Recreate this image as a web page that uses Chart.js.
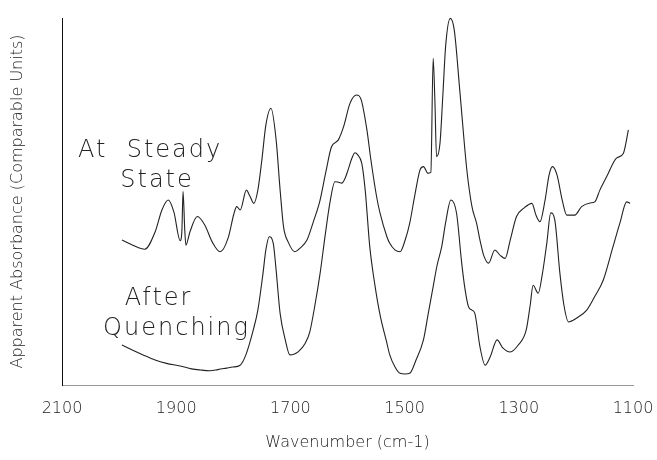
<!DOCTYPE html>
<html>
<head>
<meta charset="utf-8">
<script src="https://cdn.jsdelivr.net/npm/chart.js@4"></script>
<style>
  html, body { margin: 0; padding: 0; background: #fff; }
  #wrap { width: 657px; height: 460px; }
</style>
</head>
<body>
<div id="wrap"><canvas id="irChart" width="657" height="460"></canvas></div>
<script>
// wavenumber ticks shown on the bottom axis
var xTicks = [2100, 1900, 1700, 1500, 1300, 1100];

// "At Steady State" spectrum
var steadyWn = [1995, 1976, 1955, 1937, 1925, 1914, 1904, 1893, 1890, 1888,
  1885, 1883, 1876, 1863, 1850, 1837, 1823, 1809, 1799, 1794,
  1788, 1777, 1771, 1764, 1757, 1750, 1743, 1734, 1725, 1718,
  1712, 1704, 1692, 1683, 1671, 1660, 1648, 1638, 1628, 1616,
  1606, 1596, 1584, 1576, 1566, 1559, 1549, 1543, 1531, 1526,
  1517, 1508, 1499, 1491, 1482, 1473, 1467, 1459, 1454, 1450,
  1447, 1444, 1438, 1433, 1428, 1420, 1413, 1403, 1391, 1382,
  1374, 1368, 1361, 1353, 1342, 1333, 1324, 1315, 1304, 1291,
  1277, 1270, 1263, 1254, 1247, 1241, 1233, 1224, 1216, 1202,
  1190, 1175, 1167, 1158, 1146, 1129, 1117, 1108];
var steadyAbs = [39.5, 38.1, 37.0, 41.7, 47.7, 50.4, 47.1, 39.3, 42.2, 52.7,
  42.2, 38.1, 41.7, 45.9, 43.6, 39.0, 36.3, 40.1, 46.6, 48.6,
  47.7, 53.1, 51.5, 49.5, 53.1, 61.3, 70.8, 75.4, 66.8, 53.1,
  43.1, 39.0, 36.3, 37.3, 39.5, 44.4, 50.4, 58.0, 64.9, 66.8,
  70.8, 76.6, 79.0, 77.7, 69.5, 61.3, 51.3, 46.8, 40.4, 38.6,
  36.8, 36.3, 39.5, 44.1, 51.8, 58.6, 59.5, 57.7, 58.0, 89.0,
  77.7, 62.2, 65.9, 79.0, 92.6, 99.9, 96.7, 79.6, 58.6, 48.6,
  44.1, 39.5, 35.1, 33.2, 36.8, 35.4, 34.5, 39.5, 45.9, 48.2,
  49.5, 46.3, 44.5, 50.4, 57.2, 59.5, 57.2, 50.4, 46.3, 46.3,
  48.6, 49.6, 49.9, 53.1, 56.8, 61.8, 63.1, 69.5];

// "After Quenching" spectrum
var quenchWn = [1995, 1976, 1958, 1937, 1917, 1893, 1873, 1858, 1841, 1827,
  1812, 1801, 1788, 1778, 1765, 1757, 1748, 1743, 1737, 1730,
  1725, 1718, 1709, 1701, 1694, 1686, 1674, 1666, 1657, 1648,
  1639, 1631, 1622, 1617, 1610, 1604, 1599, 1592, 1587, 1582,
  1575, 1569, 1561, 1552, 1543, 1531, 1526, 1517, 1508, 1499,
  1491, 1480, 1467, 1459, 1450, 1443, 1435, 1428, 1419, 1409,
  1400, 1394, 1388, 1382, 1377, 1368, 1359, 1350, 1338, 1328,
  1315, 1301, 1287, 1280, 1275, 1266, 1259, 1251, 1244, 1237,
  1228, 1221, 1213, 1199, 1181, 1167, 1152, 1135, 1123, 1111,
  1105];
var quenchAbs = [10.9, 9.5, 8.2, 6.8, 5.9, 5.2, 4.4, 4.1, 3.9, 4.2,
  4.6, 4.9, 5.4, 8.2, 15.0, 20.4, 30.4, 36.8, 40.4, 38.6,
  31.3, 19.5, 12.3, 8.2, 8.4, 9.1, 11.4, 14.5, 21.8, 30.4,
  40.9, 49.5, 55.4, 55.3, 55.0, 56.4, 58.6, 61.9, 63.3, 62.7,
  60.4, 53.1, 37.7, 27.2, 19.1, 11.4, 8.2, 5.0, 3.2, 3.0,
  3.2, 6.8, 12.3, 19.1, 26.8, 32.7, 37.7, 44.4, 50.4, 46.8,
  33.2, 25.9, 21.3, 20.4, 19.5, 10.4, 5.4, 7.7, 12.3, 10.1,
  9.0, 10.9, 15.0, 21.8, 27.2, 25.0, 30.0, 38.6, 46.9, 45.0,
  30.4, 21.8, 17.2, 18.2, 20.4, 24.1, 28.6, 37.7, 44.1, 49.9,
  49.5];

// text written next to the curves, anchored in data units
var curveLabels = [
  { text: "At  Steady", wn: 2072, abs: 62.1 },
  { text: "State", wn: 1998, abs: 54.0 },
  { text: "After", wn: 1990, abs: 21.8 },
  { text: "Quenching", wn: 2028, abs: 13.6 }
];

function toPoints(xs, ys) {
  return xs.map(function (v, i) { return { x: v, y: ys[i] }; });
}

var inkColor = "#222";
var fontFamily = "'DejaVu Sans', 'Liberation Sans', sans-serif";

var labelPlugin = {
  id: "curveLabels",
  afterDatasetsDraw: function (chart) {
    var ctx = chart.ctx;
    var xs = chart.scales.x, ys = chart.scales.y;
    ctx.save();
    ctx.font = "300 24px " + fontFamily;
    ctx.letterSpacing = "2px";
    ctx.fillStyle = inkColor;
    ctx.textAlign = "left";
    ctx.textBaseline = "alphabetic";
    curveLabels.forEach(function (l) {
      ctx.fillText(l.text, xs.getPixelForValue(l.wn), ys.getPixelForValue(l.abs));
    });
    ctx.restore();
  }
};

var ctx = document.getElementById("irChart").getContext("2d");
var irChart = new Chart(ctx, {
  type: "line",
  data: {
    datasets: [
      {
        label: "At Steady State",
        data: toPoints(steadyWn, steadyAbs),
        borderColor: inkColor,
        borderWidth: 1.1,
        pointRadius: 0,
        cubicInterpolationMode: "monotone",
        clip: false
      },
      {
        label: "After Quenching",
        data: toPoints(quenchWn, quenchAbs),
        borderColor: inkColor,
        borderWidth: 1.1,
        pointRadius: 0,
        cubicInterpolationMode: "monotone",
        clip: false
      }
    ]
  },
  options: {
    responsive: false,
    animation: false,
    devicePixelRatio: 1,
    layout: { padding: { top: 18, right: 24, left: 0, bottom: 0 } },
    plugins: {
      legend: { display: false },
      tooltip: { enabled: false }
    },
    scales: {
      x: {
        type: "linear",
        min: 1100,
        max: 2100,
        reverse: true,
        afterBuildTicks: function (scale) {
          scale.ticks = xTicks.map(function (v) { return { value: v }; });
        },
        afterFit: function (scale) {
          scale.height = 75;
          scale.paddingLeft = 0;
          scale.paddingRight = 0;
        },
        grid: { display: false, drawTicks: false },
        border: { display: true, color: "#999", width: 1, dash: [1, 3] },
        ticks: {
          autoSkip: false,
          maxRotation: 0,
          padding: 14,
          color: inkColor,
          font: { family: fontFamily, size: 16, weight: "300" },
          callback: function (v) { return String(v); }
        },
        title: {
          display: true,
          text: "Wavenumber (cm-1)",
          color: inkColor,
          font: { family: fontFamily, size: 16, weight: "300" },
          padding: { top: 0, bottom: 8 }
        }
      },
      y: {
        min: 0,
        max: 100,
        afterFit: function (scale) { scale.width = 62; },
        grid: { display: false, drawTicks: false },
        border: { display: true, color: "#111", width: 1 },
        ticks: { display: false },
        title: {
          display: true,
          text: "Apparent Absorbance (Comparable Units)",
          color: inkColor,
          font: { family: fontFamily, size: 16, weight: "300" },
          padding: { top: 8, bottom: 0 }
        }
      }
    }
  },
  plugins: [labelPlugin]
});
</script>
</body>
</html>
